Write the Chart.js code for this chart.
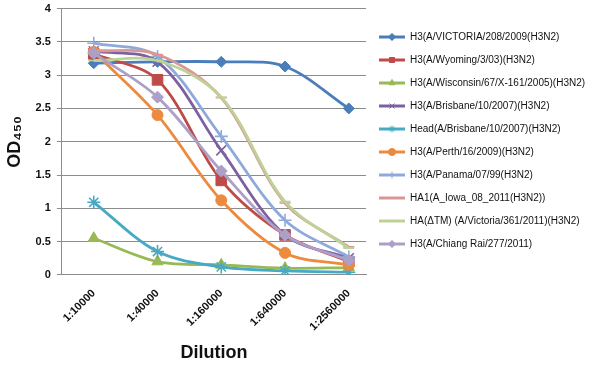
<!DOCTYPE html>
<html>
<head>
<meta charset="utf-8">
<script src="https://cdn.jsdelivr.net/npm/chart.js@4/dist/chart.umd.min.js"></script>
<style>
  html, body { margin: 0; padding: 0; background: #fff; }
  #wrap { width: 592px; height: 368px; }
</style>
</head>
<body>
<div id="wrap"><canvas id="c" width="592" height="368"></canvas></div>
<script>
const categories = ['1:10000', '1:40000', '1:160000', '1:640000', '1:2560000'];
const seriesNames = [
  'H3(A/VICTORIA/208/2009(H3N2)',
  'H3(A/Wyoming/3/03)(H3N2)',
  'H3(A/Wisconsin/67/X-161/2005)(H3N2)',
  'H3(A/Brisbane/10/2007)(H3N2)',
  'Head(A/Brisbane/10/2007)(H3N2)',
  'H3(A/Perth/16/2009)(H3N2)',
  'H3(A/Panama/07/99(H3N2)',
  'HA1(A_Iowa_08_2011(H3N2))',
  'HA(\u0394TM) (A/Victoria/361/2011)(H3N2)',
  'H3(A/Chiang Rai/277/2011)'
];
const victoria = [3.18, 3.2, 3.2, 3.13, 2.5];
const wyoming = [3.32, 2.93, 1.42, 0.6, 0.2];
const wisconsin = [0.55, 0.2, 0.15, 0.1, 0.11];
const brisbane = [3.36, 3.2, 1.87, 0.6, 0.25];
const headBrisbane = [1.09, 0.35, 0.12, 0.06, 0.04];
const perth = [3.35, 2.4, 1.12, 0.33, 0.15];
const panama = [3.48, 3.28, 2.08, 0.82, 0.27];
const iowa = [3.37, 3.31, 2.66, 1.08, 0.42];
const victoriaTM = [3.22, 3.22, 2.67, 1.1, 0.4];
const chiangRai = [3.33, 2.67, 1.56, 0.6, 0.22];
const yTicks = [0, 0.5, 1, 1.5, 2, 2.5, 3, 3.5, 4];

const allSeries = [victoria, wyoming, wisconsin, brisbane, headBrisbane, perth, panama, iowa, victoriaTM, chiangRai];
const colors = ['#4A7EBB', '#BE4B48', '#98B954', '#7D60A0', '#46AAC5', '#EC8A3E', '#8FAADA', '#D99694', '#BDD396', '#ACA0C8'];
const markers = ['rectRot', 'rect', 'triangle', 'crossRot', 'star', 'circle', 'cross', 'line', 'line', 'rectRot'];
const markerRadius = [5.5, 7.5, 6.5, 7, 6.5, 5.5, 6.5, 5.5, 5.5, 6];

function legendIcon(i) {
  const cv = document.createElement('canvas');
  cv.width = 26; cv.height = 10;
  const ctx = cv.getContext('2d');
  ctx.strokeStyle = colors[i];
  ctx.lineWidth = 3;
  ctx.beginPath(); ctx.moveTo(0, 5); ctx.lineTo(26, 5); ctx.stroke();
  const m = markers[i];
  if (m !== 'line') {
    ctx.fillStyle = colors[i];
    ctx.lineWidth = 1;
    Chart.helpers.drawPoint(ctx, {pointStyle: m, radius: 3.5, borderWidth: 1, rotation: 0}, 13, 5);
    ctx.fill();
  }
  return cv;
}

const datasets = allSeries.map((vals, i) => ({
  label: seriesNames[i],
  data: vals.map((v, k) => ({x: k, y: v})),
  borderColor: colors[i],
  backgroundColor: colors[i],
  borderWidth: 2.8,
  pointStyle: markers[i],
  pointRadius: markerRadius[i],
  pointBorderWidth: (markers[i] === 'cross' || markers[i] === 'crossRot' || markers[i] === 'star' || markers[i] === 'line') ? 1.6 : 1,
  pointBorderColor: colors[i],
  pointBackgroundColor: colors[i],
  tension: 0.33,
  fill: false,
  order: 20 - i
}));

const iconCache = colors.map((c, i) => legendIcon(i));

new Chart(document.getElementById('c'), {
  type: 'line',
  data: { datasets },
  options: {
    responsive: false,
    animation: false,
    layout: { padding: { top: 0, left: 4, right: 0, bottom: 4 } },
    plugins: {
      tooltip: { enabled: false },
      legend: {
        position: 'right',
        align: 'start',
        maxWidth: 226,
        title: { display: true, text: ' ', font: { size: 10 }, padding: { top: 7, bottom: 0 } },
        labels: {
          font: { family: 'Liberation Sans', size: 10 },
          color: '#111',
          padding: 13,
          usePointStyle: true,
          pointStyleWidth: 26,
          sort: (a, b) => a.datasetIndex - b.datasetIndex,
          generateLabels: (chart) => {
            const items = Chart.defaults.plugins.legend.labels.generateLabels(chart);
            items.forEach(it => { it.pointStyle = iconCache[it.datasetIndex]; });
            return items;
          }
        }
      }
    },
    scales: {
      x: {
        type: 'linear',
        min: -0.5,
        max: 4.27,
        afterBuildTicks: (axis) => { axis.ticks = categories.map((c, k) => ({value: k})); },
        ticks: {
          callback: (v) => categories[v],
          minRotation: 45, maxRotation: 45,
          font: { family: 'Liberation Sans', size: 11, weight: 'bold' },
          color: '#111',
          padding: 4
        },
        grid: { display: false },
        border: { display: true, color: '#8c8c8c', width: 1 },
        title: {
          display: true, text: 'Dilution',
          font: { family: 'Liberation Sans', size: 18, weight: 'bold' },
          color: '#111',
          padding: { top: 5, bottom: 0 }
        }
      },
      y: {
        min: 0, max: 4,
        afterBuildTicks: (axis) => { axis.ticks = yTicks.map(v => ({value: v})); },
        afterFit: (scale) => { scale.paddingTop = 7; },
        ticks: {
          callback: (v) => String(v),
          font: { family: 'Liberation Sans', size: 11, weight: 'bold' },
          color: '#111',
          padding: 6
        },
        grid: { color: '#8c8c8c', lineWidth: 1, tickLength: 5 },
        border: { display: true, color: '#8c8c8c', width: 1 },
        title: {
          display: true, text: 'OD\u2084\u2085\u2080',
          font: { family: 'Liberation Sans', size: 18, weight: 'bold' },
          color: '#111',
          padding: { top: 0, bottom: 4 }
        }
      }
    }
  }
});
</script>
</body>
</html>
